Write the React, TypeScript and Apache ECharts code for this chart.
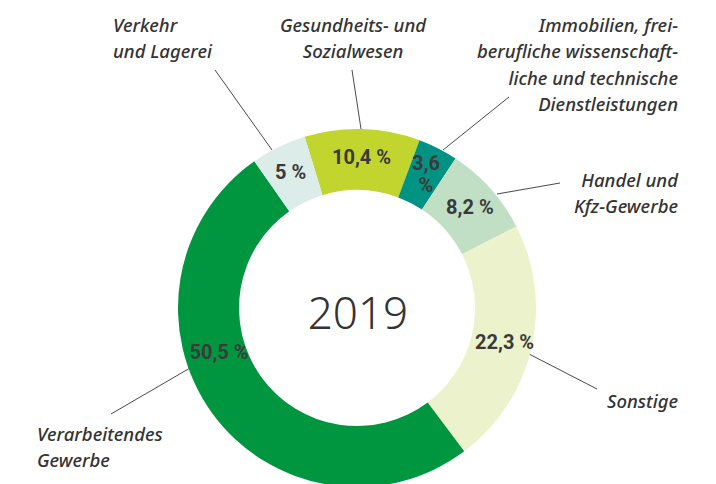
import React, { useEffect, useRef } from 'react';
import * as echarts from 'echarts';

// ---- data ----
const categories = [
  'Gesundheits- und\nSozialwesen',
  'Immobilien, frei-\nberufliche wissenschaft-\nliche und technische\nDienstleistungen',
  'Handel und\nKfz-Gewerbe',
  'Sonstige',
  'Verarbeitendes\nGewerbe',
  'Verkehr\nund Lagerei',
];
const shares = [10.4, 3.6, 8.2, 22.3, 50.5, 5];
const yearLabel = '2019';

// ---- styling / layout (not data) ----
const colors = ['#c2d52e', '#009383', '#c1dfc5', '#ecf2cc', '#009640', '#dcece9'];
const CX = 357;
const CY = 308;
const R_IN = 118;
const R_OUT = 179;

type Pt = [number, number];
const nameLayout: { x: number; y: number; align: string; line: Pt[] }[] = [
  { x: 353, y: 11, align: 'center', line: [[361, 129], [352, 70]] },
  { x: 678, y: 11, align: 'right', line: [[443, 150], [509, 97]] },
  { x: 678, y: 166, align: 'right', line: [[497, 194], [560, 183]] },
  { x: 678, y: 387, align: 'right', line: [[529, 354], [597, 389]] },
  { x: 37, y: 420, align: 'left', line: [[190, 368], [111, 414]] },
  { x: 113, y: 11, align: 'left', line: [[272, 150], [215, 70]] },
];
const pctOverride: Record<number, { x: number; y: number }> = {
  1: { x: 426, y: 174 },
  4: { x: 219, y: 352 },
};

const fmtPct = (v: number) =>
  String(v).replace('.', ',') + (v < 4 ? '\n' : ' ') + '%';

export default function App() {
  const ref = useRef<HTMLDivElement>(null);
  useEffect(() => {
    if (!ref.current) return;
    const chart = echarts.init(ref.current, undefined, { renderer: 'svg' });
    const data = categories.map((name, i) => ({
      name,
      value: shares[i],
      itemStyle: { color: colors[i] },
    }));
    chart.setOption({
      animation: false,
      backgroundColor: '#ffffff',
      graphic: [
        {
          type: 'text',
          x: CX + 1,
          y: CY + 4,
          style: {
            text: yearLabel,
            fontSize: 44,
            fontFamily: "'Noto Sans', sans-serif",
            fontWeight: 300,
            fill: '#333333',
            textAlign: 'center',
            textVerticalAlign: 'middle',
          },
        },
      ],
      series: [
        {
          type: 'pie',
          name: 'names',
          silent: true,
          center: [CX, CY],
          radius: [R_IN, R_OUT],
          startAngle: 107,
          clockwise: true,
          data: categories.map((name, i) => ({
            name,
            value: shares[i],
            itemStyle: { color: 'rgba(0,0,0,0)' },
          })),
          label: {
            show: true,
            position: 'outside',
            formatter: '{b}',
            fontFamily: "'Noto Sans', sans-serif",
            fontStyle: 'italic',
            fontWeight: 500,
            fontSize: 18.5,
            lineHeight: 26.5,
            color: '#333333',
          },
          labelLine: {
            show: true,
            lineStyle: { color: '#4a4a4a', width: 1 },
          },
          labelLayout: (p: any) => {
            const l = nameLayout[p.dataIndex];
            return {
              x: l.x,
              y: l.y,
              align: l.align,
              verticalAlign: 'top',
              labelLinePoints: l.line,
            };
          },
          emphasis: { disabled: true },
          z: 1,
        },
        {
          type: 'pie',
          name: 'shares',
          silent: true,
          center: [CX, CY],
          radius: [R_IN, R_OUT],
          startAngle: 107,
          clockwise: true,
          data,
          itemStyle: { borderWidth: 0 },
          label: {
            show: true,
            position: 'inside',
            formatter: (p: any) => fmtPct(p.value),
            fontFamily: "Roboto, sans-serif",
            fontWeight: 'bold',
            fontSize: 20,
            lineHeight: 22,
            color: '#3a3a3a',
          },
          labelLine: { show: false },
          labelLayout: (p: any) => {
            const o = pctOverride[p.dataIndex];
            if (!o) return {};
            return { x: o.x, y: o.y, align: 'center', verticalAlign: 'middle' };
          },
          emphasis: { disabled: true },
          z: 2,
        },
      ],
    });
    return () => chart.dispose();
  }, []);
  return (
    <div
      ref={ref}
      style={{ position: 'fixed', left: 0, top: 0, width: 716, height: 484 }}
    />
  );
}
